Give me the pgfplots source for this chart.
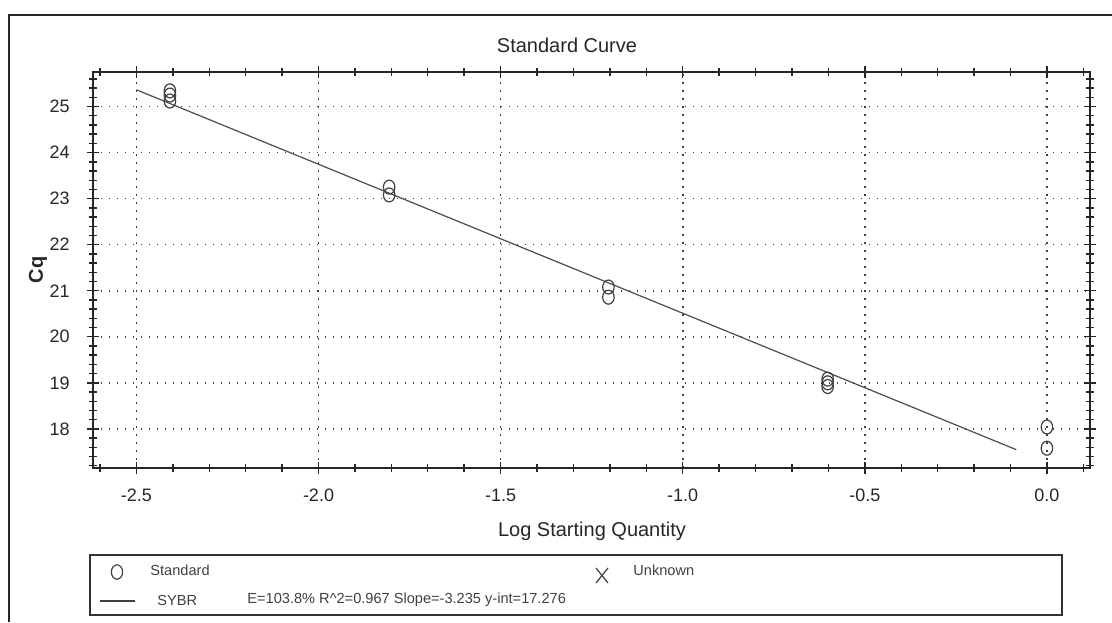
\documentclass[border=0pt]{standalone}
\usepackage{pgfplots}
\pgfplotsset{compat=1.18}
\usepackage{fontspec}
\setmainfont{Liberation Sans}
\begin{document}
\begin{tikzpicture}
\useasboundingbox (0,0) rectangle (556pt,311pt);
\draw[line width=1pt, black!85] (4.5pt,0pt) -- (4.5pt,303.5pt) -- (556pt,303.5pt);
\begin{axis}[
  at={(46.35pt,77pt)}, anchor=south west,
  scale only axis, width=498.6pt, height=198pt,
  xmin=-2.62, xmax=0.118, ymin=17.15, ymax=25.75,
  xtick={-2.5,-2,-1.5,-1,-0.5,0},
  minor xtick={-2.6,-2.4,-2.3,-2.2,-2.1,-1.9,-1.8,-1.7,-1.6,-1.4,-1.3,-1.2,-1.1,-0.9,-0.8,-0.7,-0.6,-0.4,-0.3,-0.2,-0.1,0.1},
  ytick={18,19,20,21,22,23,24,25},
  minor ytick={17.2,17.4,17.6,17.8,18.2,18.4,18.6,18.8,19.2,19.4,19.6,19.8,20.2,20.4,20.6,20.8,21.2,21.4,21.6,21.8,22.2,22.4,22.6,22.8,23.2,23.4,23.6,23.8,24.2,24.4,24.6,24.8,25.2,25.4,25.6},
  grid=major,
  major grid style={black!75, line width=0.8pt, dash pattern=on 0.8pt off 3.2pt},
  axis line style={line width=1pt, black!85},
  tick style={line width=0.7pt, black!85},
  tick align=center,
  major tick length=6pt, minor tick length=4pt,
  /pgf/number format/assume math mode=true,
  xticklabel style={/pgf/number format/fixed, /pgf/number format/fixed zerofill, /pgf/number format/precision=1, font=\fontsize{9}{10}\selectfont, text=black!85, yshift=-4pt},
  yticklabel style={font=\fontsize{9}{10}\selectfont, text=black!85, xshift=-5pt},
  clip=false,
]
\addplot[only marks, mark=o, mark size=3.5pt, mark options={xscale=0.82, line width=0.6pt, black!75}] coordinates {
  (-2.408,25.34) (-2.408,25.25) (-2.408,25.12)
  (-1.806,23.25) (-1.806,23.08)
  (-1.204,21.08) (-1.204,20.86)
  (-0.602,19.08) (-0.602,19.00) (-0.602,18.92)
  (0,18.04) (0,17.58)
};
\addplot[black!70, line width=0.6pt] coordinates {(-2.5,25.364) (-0.084,17.548)};
\end{axis}
% titles
\node[font=\fontsize{10}{12}\selectfont, text=black!85] at (283.5pt,288.3pt) {Standard Curve};
\node[font=\fontsize{10}{12}\selectfont, text=black!85] at (296pt,45.5pt) {Log Starting Quantity};
\node[font=\bfseries\fontsize{10}{12}\selectfont, text=black!85, rotate=90] at (19pt,176pt) {Cq};
% legend box
\draw[line width=0.9pt, black!80] (45pt,3.5pt) rectangle (531pt,33.5pt);
\draw[line width=0.6pt, black!75] (58.5pt,25pt) ellipse (2.8pt and 3.6pt);
\node[anchor=west, font=\fontsize{7.3}{8}\selectfont, text=black!75, inner sep=0pt] at (75pt,26pt) {Standard};
\draw[line width=0.6pt, black!75] (298pt,19.5pt) -- (304pt,27pt) (298pt,27pt) -- (304pt,19.5pt);
\node[anchor=west, font=\fontsize{7.3}{8}\selectfont, text=black!75, inner sep=0pt] at (316.5pt,26pt) {Unknown};
\draw[line width=0.6pt, black!75] (50pt,10.5pt) -- (67.5pt,10.5pt);
\node[anchor=west, font=\fontsize{7.3}{8}\selectfont, text=black!75, inner sep=0pt] at (78.5pt,11pt) {SYBR};
\node[anchor=west, font=\fontsize{7.3}{8}\selectfont, text=black!75, inner sep=0pt] at (123.5pt,11pt) {E=103.8\% R\^{}2=0.967 Slope=-3.235 y-int=17.276};
\end{tikzpicture}
\end{document}
